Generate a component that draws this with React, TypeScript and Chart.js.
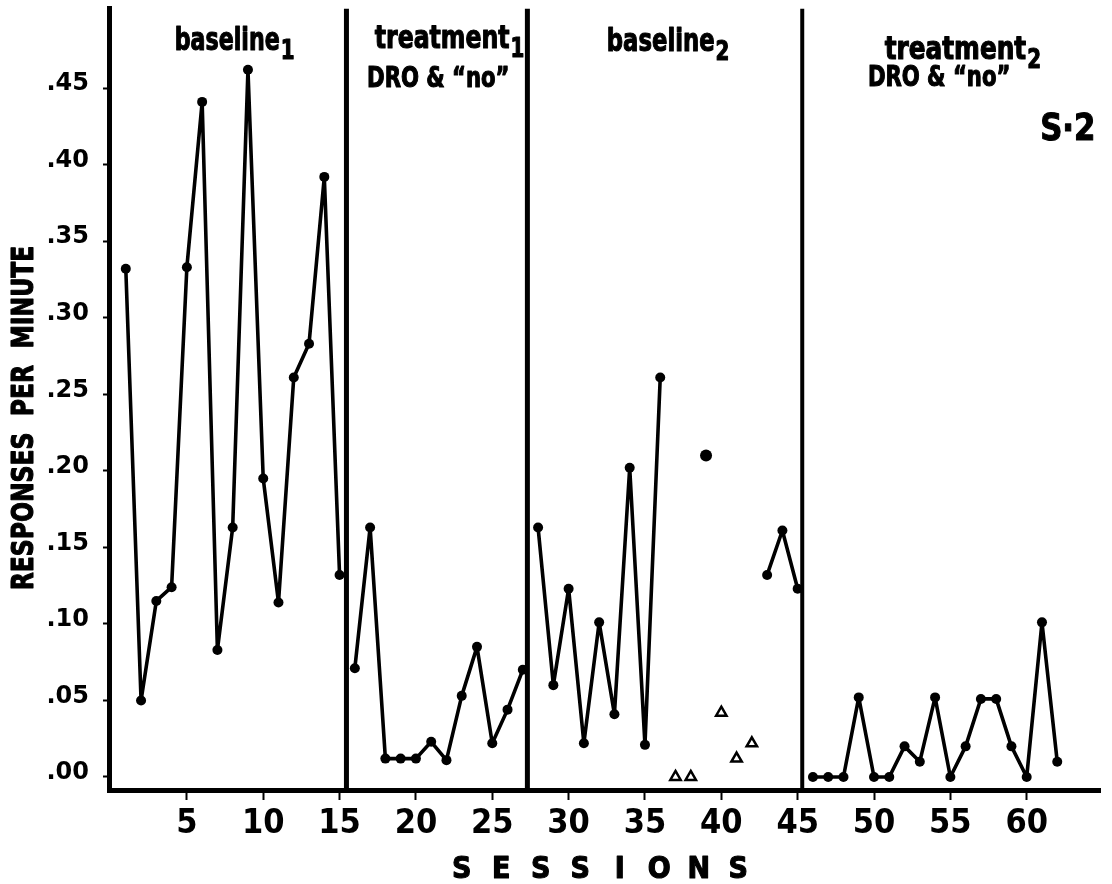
import React, { useEffect, useRef } from "react";
import { Chart, registerables } from "chart.js";

Chart.register(...registerables);

// ---------- data ----------
const baseline1Sessions = [1, 2, 3, 4, 5, 6, 7, 8, 9, 10, 11, 12, 13, 14, 15];
const baseline1Rates = [0.332, 0.05, 0.115, 0.124, 0.333, 0.441, 0.083, 0.163, 0.462, 0.195, 0.114, 0.261, 0.283, 0.392, 0.132];

const treatment1Sessions = [16, 17, 18, 19, 20, 21, 22, 23, 24, 25, 26, 27];
const treatment1Rates = [0.071, 0.163, 0.012, 0.012, 0.012, 0.023, 0.011, 0.053, 0.085, 0.022, 0.044, 0.07];

const baseline2aSessions = [28, 29, 30, 31, 32, 33, 34, 35, 36];
const baseline2aRates = [0.163, 0.06, 0.123, 0.022, 0.101, 0.041, 0.202, 0.021, 0.261];

const baseline2DotSessions = [39];
const baseline2DotRates = [0.21];

const baseline2TriangleSessions = [37, 38, 40, 41, 42];
const baseline2TriangleRates = [0.0, 0.0, 0.042, 0.012, 0.022];

const baseline2bSessions = [43, 44, 45];
const baseline2bRates = [0.132, 0.161, 0.123];

const treatment2Sessions = [46, 47, 48, 49, 50, 51, 52, 53, 54, 55, 56, 57, 58, 59, 60, 61, 62];
const treatment2Rates = [0, 0, 0, 0.052, 0, 0, 0.02, 0.01, 0.052, 0, 0.02, 0.051, 0.051, 0.02, 0, 0.101, 0.01];

const phaseChangeSessions = [15.45, 27.3, 45.3];

const xTickValues = [5, 10, 15, 20, 25, 30, 35, 40, 45, 50, 55, 60];
const yTickValues = [0, 0.05, 0.1, 0.15, 0.2, 0.25, 0.3, 0.35, 0.4, 0.45];

const phaseNames = ["baseline", "treatment", "baseline", "treatment"];
const phaseSubscripts = ["1", "1", "2", "2"];
const phaseSubtitle = "DRO & \u201Cno\u201D";
const subjectLabel = "S\u00B72";
const xTitle = "SESSIONS";
const yTitle = "RESPONSES  PER  MINUTE";

// ---------- styling ----------
const NARROW = '"Liberation Sans Narrow", "Arial Narrow", "DejaVu Sans Condensed", "Roboto Condensed", sans-serif';
const WIDE = '"DejaVu Sans", "Verdana", sans-serif';
const X_MIN = -0.1;
const X_MAX = 64.8;
const Y_MIN = -0.0085;
const Y_MAX = 0.502;

const pts = (xs: number[], ys: number[]) => xs.map((x, i) => ({ x, y: ys[i] }));

const lineSeries = (xs: number[], ys: number[]) => ({
  data: pts(xs, ys),
  showLine: true,
  borderColor: "#000",
  borderWidth: 3.6,
  borderJoinStyle: "round",
  borderCapStyle: "round",
  tension: 0,
  pointRadius: 5,
  pointBackgroundColor: "#000",
  pointBorderColor: "#000",
  pointBorderWidth: 0,
});

const drawHeavy = (ctx: any, text: string, x: number, y: number, sx: number) => {
  ctx.save();
  ctx.translate(x, y);
  ctx.scale(sx, 1);
  ctx.fillText(text, 0, 0);
  ctx.strokeText(text, 0, 0);
  const w = ctx.measureText(text).width * sx;
  ctx.restore();
  return w;
};

const annotationPlugin = {
  id: "annotations",
  afterDraw(chart: any) {
    const { ctx } = chart;
    const xs = chart.scales.x;
    const ys = chart.scales.y;
    const bold = (px: number, fam = NARROW) => `bold ${px}px ${fam}`;
    ctx.save();
    ctx.fillStyle = "#000";
    ctx.strokeStyle = "#000";
    ctx.lineWidth = 1.1;
    ctx.lineJoin = "round";
    ctx.textBaseline = "alphabetic";
    ctx.textAlign = "left";

    // phase labels with subscripts
    const nameSpots = [
      { x: 4.2, y: 0.4746, sx: 0.77 },
      { x: 17.3, y: 0.476, sx: 0.82 },
      { x: 32.5, y: 0.474, sx: 0.79 },
      { x: 50.7, y: 0.469, sx: 0.86 },
    ];
    phaseNames.forEach((name, i) => {
      const px = xs.getPixelForValue(nameSpots[i].x);
      const py = ys.getPixelForValue(nameSpots[i].y);
      ctx.font = bold(32);
      const w = drawHeavy(ctx, name, px, py, nameSpots[i].sx);
      ctx.font = bold(26);
      drawHeavy(ctx, phaseSubscripts[i], px + w + 1, py + 9, 0.85);
    });

    // "DRO & no" lines under treatment labels
    const subSpots = [
      { x: 16.8, y: 0.4505 },
      { x: 49.6, y: 0.4515 },
    ];
    ctx.font = bold(28);
    subSpots.forEach((s) => {
      drawHeavy(ctx, phaseSubtitle, xs.getPixelForValue(s.x), ys.getPixelForValue(s.y), 0.84);
    });

    // subject label
    ctx.font = bold(38);
    ctx.textAlign = "right";
    drawHeavy(ctx, subjectLabel, xs.getPixelForValue(64.5), ys.getPixelForValue(0.416), 0.9);

    // x title, spaced letters
    ctx.font = bold(30);
    ctx.textAlign = "center";
    const letters = xTitle.split("");
    const cx = 600;
    letters.forEach((ch, i) => {
      drawHeavy(ctx, ch, cx + (i - (letters.length - 1) / 2) * 39.5, 878, 1);
    });

    // y title, rotated
    ctx.translate(33, 418);
    ctx.rotate(-Math.PI / 2);
    ctx.font = bold(30);
    ctx.textAlign = "center";
    drawHeavy(ctx, yTitle, 0, 0, 0.87);
    ctx.restore();
  },
};

export default function App() {
  const canvasRef = useRef<HTMLCanvasElement | null>(null);

  useEffect(() => {
    if (!canvasRef.current) return;
    const phaseWidths = [5, 5, 4];
    const datasets: any[] = [
      ...phaseChangeSessions.map((s, i) => ({
        data: [
          { x: s, y: Y_MAX },
          { x: s, y: Y_MIN },
        ],
        showLine: true,
        borderColor: "#000",
        borderWidth: phaseWidths[i],
        pointRadius: 0,
      })),
      lineSeries(baseline1Sessions, baseline1Rates),
      lineSeries(treatment1Sessions, treatment1Rates),
      lineSeries(baseline2aSessions, baseline2aRates),
      lineSeries(baseline2bSessions, baseline2bRates),
      lineSeries(treatment2Sessions, treatment2Rates),
      {
        data: pts(baseline2DotSessions, baseline2DotRates),
        showLine: false,
        pointRadius: 6,
        pointBackgroundColor: "#000",
        pointBorderWidth: 0,
      },
      {
        data: pts(baseline2TriangleSessions, baseline2TriangleRates),
        showLine: false,
        pointStyle: "triangle",
        pointRadius: 6,
        pointBackgroundColor: "#fff",
        pointBorderColor: "#000",
        pointBorderWidth: 2.5,
      },
    ];

    const chart = new Chart(canvasRef.current, {
      type: "scatter",
      data: { datasets },
      options: {
        animation: false,
        responsive: false,
        layout: { padding: { top: 5, right: 12, left: 0, bottom: 0 } },
        plugins: {
          legend: { display: false },
          tooltip: { enabled: false },
          title: { display: false },
        },
        scales: {
          x: {
            type: "linear",
            min: X_MIN,
            max: X_MAX,
            afterFit: (s: any) => {
              s.height = 94;
              s.paddingLeft = 0;
              s.paddingRight = 0;
            },
            afterBuildTicks: (s: any) => {
              s.ticks = xTickValues.map((v) => ({ value: v }));
            },
            grid: {
              drawOnChartArea: false,
              drawTicks: true,
              tickLength: 10,
              tickWidth: 2,
              tickColor: "#000",
            },
            border: { display: true, color: "#000", width: 5 },
            ticks: {
              color: "#000",
              font: { family: NARROW, size: 34, weight: "bold" },
              padding: 4,
              maxRotation: 0,
              autoSkip: false,
              callback: (v: any) => String(v),
            },
          },
          y: {
            type: "linear",
            min: Y_MIN,
            max: Y_MAX,
            afterFit: (s: any) => {
              s.width = 109;
              s.paddingTop = 0;
              s.paddingBottom = 0;
            },
            afterBuildTicks: (s: any) => {
              s.ticks = yTickValues.map((v) => ({ value: v }));
            },
            grid: {
              drawOnChartArea: false,
              drawTicks: true,
              tickLength: 6,
              tickWidth: 2,
              tickColor: "#000",
            },
            border: { display: true, color: "#000", width: 5 },
            ticks: {
              color: "#000",
              font: { family: WIDE, size: 24, weight: "bold" },
              padding: 14,
              labelOffset: -4,
              autoSkip: false,
              callback: (v: any) => Number(v).toFixed(2).replace(/^0/, ""),
            },
          },
        },
      },
      plugins: [annotationPlugin],
    } as any);

    return () => chart.destroy();
  }, []);

  return (
    <canvas
      ref={canvasRef}
      width={1112}
      height={884}
      style={{ position: "absolute", left: 0, top: 0, display: "block" }}
    />
  );
}
